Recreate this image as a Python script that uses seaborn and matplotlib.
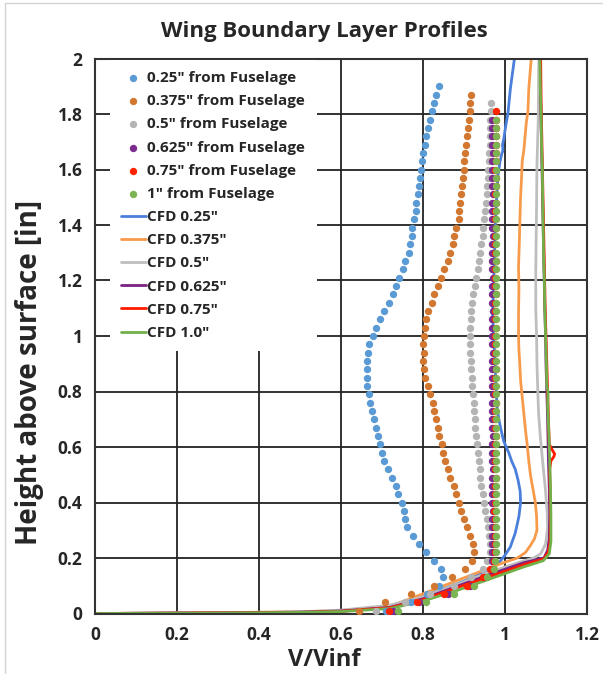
import matplotlib
matplotlib.use('Agg')
import matplotlib.pyplot as plt
import seaborn as sns
import pandas as pd
from matplotlib.ticker import MultipleLocator, FuncFormatter
from matplotlib.patches import Rectangle

# measurement heights of the traverse [in]
h_exp = [0.01, 0.04, 0.07, 0.10, 0.13, 0.16, 0.19, 0.22, 0.25, 0.28,
         0.31, 0.34, 0.37, 0.40, 0.43, 0.46, 0.49, 0.52, 0.55, 0.58,
         0.61, 0.64, 0.67, 0.70, 0.73, 0.76, 0.79, 0.82, 0.85, 0.88,
         0.91, 0.94, 0.97, 1.00, 1.03, 1.06, 1.09, 1.12, 1.15, 1.18,
         1.21, 1.24, 1.27, 1.30, 1.33, 1.36, 1.39, 1.42, 1.45, 1.48,
         1.51, 1.54, 1.57, 1.60, 1.63, 1.66, 1.69, 1.72, 1.75, 1.78,
         1.81, 1.84, 1.87, 1.90]

# experiment V/Vinf, bottom to top
exp_025 = [0.710, 0.770, 0.810, 0.840, 0.848, 0.845, 0.827, 0.807, 0.791, 0.775,
           0.760, 0.756, 0.753, 0.748, 0.740, 0.733, 0.724, 0.714, 0.705, 0.700,
           0.695, 0.690, 0.685, 0.681, 0.676, 0.671, 0.668, 0.664, 0.663, 0.663,
           0.664, 0.666, 0.669, 0.677, 0.685, 0.694, 0.706, 0.716, 0.726, 0.734,
           0.741, 0.751, 0.756, 0.765, 0.769, 0.772, 0.774, 0.778, 0.783, 0.783,
           0.787, 0.790, 0.792, 0.795, 0.797, 0.800, 0.804, 0.808, 0.812, 0.818,
           0.823, 0.827, 0.832, 0.838]
exp_0375 = [0.644, 0.708, 0.770, 0.826, 0.871, 0.903, 0.919, 0.925, 0.922, 0.914,
            0.907, 0.899, 0.893, 0.887, 0.880, 0.875, 0.867, 0.860, 0.854, 0.849,
            0.846, 0.840, 0.836, 0.831, 0.827, 0.824, 0.818, 0.812, 0.805, 0.802,
            0.801, 0.802, 0.801, 0.802, 0.805, 0.807, 0.812, 0.822, 0.828, 0.836,
            0.845, 0.852, 0.861, 0.867, 0.872, 0.876, 0.880, 0.887, 0.889, 0.891,
            0.893, 0.895, 0.897, 0.899, 0.901, 0.903, 0.906, 0.907, 0.910, 0.912,
            0.914, 0.915, 0.917]
exp_05 = [0.686, 0.756, 0.818, 0.875, 0.918, 0.946, 0.956, 0.964, 0.964, 0.962,
          0.959, 0.956, 0.952, 0.950, 0.946, 0.942, 0.940, 0.938, 0.936, 0.934,
          0.932, 0.930, 0.928, 0.926, 0.924, 0.924, 0.922, 0.919, 0.919, 0.917,
          0.917, 0.915, 0.915, 0.915, 0.915, 0.916, 0.918, 0.919, 0.922, 0.926,
          0.930, 0.934, 0.937, 0.940, 0.942, 0.946, 0.946, 0.948, 0.952, 0.954,
          0.955, 0.956, 0.958, 0.959, 0.960, 0.962, 0.963, 0.963, 0.964, 0.964,
          0.966, 0.967]
exp_0625 = [0.728, 0.790, 0.860, 0.915, 0.950, 0.966, 0.968, 0.969, 0.968, 0.969,
            0.968, 0.969, 0.970, 0.969, 0.968, 0.969, 0.969, 0.970, 0.969, 0.968,
            0.969, 0.970, 0.969, 0.969, 0.968, 0.969, 0.970, 0.969, 0.969, 0.968,
            0.969, 0.970, 0.969, 0.968, 0.969, 0.969, 0.970, 0.969, 0.968, 0.969,
            0.970, 0.969, 0.969, 0.968, 0.969, 0.970, 0.969, 0.968, 0.969, 0.969,
            0.970, 0.969, 0.968, 0.969, 0.969, 0.970, 0.969, 0.968, 0.969, 0.969]
exp_075 = [0.716, 0.785, 0.852, 0.907, 0.946, 0.964, 0.972, 0.975, 0.976, 0.975,
           0.976, 0.975, 0.974, 0.976, 0.975, 0.976, 0.977, 0.975, 0.976, 0.975,
           0.976, 0.977, 0.975, 0.976, 0.975, 0.977, 0.976, 0.975, 0.976, 0.977,
           0.975, 0.976, 0.976, 0.975, 0.977, 0.976, 0.975, 0.976, 0.977, 0.976,
           0.975, 0.976, 0.977, 0.976, 0.975, 0.976, 0.977, 0.976, 0.975, 0.977,
           0.976, 0.977, 0.978, 0.976, 0.977, 0.978, 0.977, 0.978, 0.977, 0.978,
           0.979]
exp_1 = [0.738, 0.807, 0.875, 0.924, 0.956, 0.972, 0.976, 0.977, 0.978, 0.977,
         0.978, 0.977, 0.978, 0.978, 0.977, 0.978, 0.977, 0.978, 0.978, 0.977,
         0.978, 0.977, 0.978, 0.978, 0.977, 0.978, 0.977, 0.978, 0.978, 0.977,
         0.978, 0.977, 0.978, 0.978, 0.977, 0.978, 0.977, 0.978, 0.978, 0.977,
         0.978, 0.977, 0.978, 0.978, 0.977, 0.978, 0.977, 0.978, 0.978, 0.977,
         0.978, 0.977, 0.978, 0.978, 0.977, 0.978, 0.977, 0.978, 0.978, 0.978]

# CFD profiles (V/Vinf, height)
cfd_025_v = [0, 0.30, 0.50, 0.60, 0.70, 0.80, 0.88, 0.93, 0.964, 0.980,
             0.989, 1.000, 1.013, 1.025, 1.034, 1.038, 1.037, 1.032, 1.025, 1.016,
             1.009, 0.997, 0.989, 0.985, 0.981, 0.979, 0.977, 0.976, 0.974, 0.972,
             0.970, 0.972, 0.974, 0.976, 0.978, 0.981, 0.983, 0.987, 0.988, 0.991,
             0.995, 0.994, 0.997, 1.001, 1.002, 1.007, 1.013, 1.023]
cfd_025_h = [0, 0.002, 0.004, 0.008, 0.020, 0.062, 0.105, 0.135, 0.160, 0.175,
             0.190, 0.210, 0.240, 0.290, 0.350, 0.400, 0.440, 0.480, 0.520, 0.550,
             0.580, 0.620, 0.670, 0.700, 0.740, 0.790, 0.850, 0.900, 0.950, 1.000,
             1.080, 1.170, 1.280, 1.390, 1.460, 1.530, 1.580, 1.620, 1.630, 1.650,
             1.670, 1.690, 1.710, 1.750, 1.760, 1.800, 1.890, 2.000]
cfd_0375_v = [0, 0.30, 0.50, 0.60, 0.72, 0.80, 0.88, 0.964, 1.000, 1.030,
              1.050, 1.062, 1.072, 1.078, 1.077, 1.074, 1.068, 1.062, 1.058, 1.054,
              1.050, 1.046, 1.042, 1.038, 1.036, 1.034, 1.033, 1.033, 1.034, 1.033,
              1.035, 1.036, 1.037, 1.038, 1.040, 1.042, 1.046, 1.049, 1.052, 1.056,
              1.058, 1.064]
cfd_0375_h = [0, 0.003, 0.006, 0.011, 0.026, 0.071, 0.117, 0.165, 0.185, 0.200,
              0.220, 0.245, 0.270, 0.300, 0.350, 0.400, 0.450, 0.500, 0.550, 0.610,
              0.660, 0.720, 0.780, 0.840, 0.900, 0.950, 1.000, 1.080, 1.170, 1.250,
              1.340, 1.400, 1.450, 1.500, 1.560, 1.630, 1.670, 1.720, 1.770, 1.810,
              1.890, 2.000]
cfd_05_v = [0, 0.30, 0.50, 0.60, 0.72, 0.80, 0.883, 0.964, 1.046, 1.070,
            1.087, 1.099, 1.104, 1.103, 1.099, 1.095, 1.091, 1.086, 1.082, 1.080,
            1.078, 1.077, 1.075, 1.075, 1.076, 1.077, 1.078, 1.081, 1.082, 1.083]
cfd_05_h = [0, 0.003, 0.006, 0.012, 0.030, 0.060, 0.105, 0.150, 0.190, 0.200,
            0.215, 0.250, 0.310, 0.360, 0.440, 0.500, 0.560, 0.640, 0.720, 0.800,
            0.900, 1.000, 1.100, 1.230, 1.350, 1.470, 1.620, 1.770, 1.950, 2.000]
cfd_0625_v = [0, 0.30, 0.50, 0.60, 0.72, 0.80, 0.883, 0.964, 1.046, 1.095,
              1.104, 1.108, 1.109, 1.108, 1.106, 1.105, 1.104, 1.102, 1.100, 1.099,
              1.097, 1.095, 1.093, 1.091, 1.089, 1.087, 1.086]
cfd_0625_h = [0, 0.002, 0.005, 0.009, 0.022, 0.053, 0.098, 0.141, 0.183, 0.200,
              0.228, 0.270, 0.350, 0.450, 0.550, 0.620, 0.700, 0.800, 0.900, 1.000,
              1.100, 1.250, 1.400, 1.550, 1.700, 1.850, 2.000]
cfd_075_v = [0, 0.30, 0.50, 0.60, 0.72, 0.80, 0.883, 0.964, 1.046, 1.095,
             1.105, 1.110, 1.111, 1.110, 1.109, 1.112, 1.119, 1.121, 1.115, 1.108,
             1.106, 1.104, 1.102, 1.100, 1.098, 1.096, 1.094, 1.092, 1.090, 1.088,
             1.087]
cfd_075_h = [0, 0.002, 0.004, 0.008, 0.021, 0.050, 0.093, 0.134, 0.176, 0.197,
             0.220, 0.260, 0.350, 0.450, 0.520, 0.550, 0.565, 0.575, 0.590, 0.610,
             0.700, 0.800, 0.900, 1.000, 1.100, 1.250, 1.400, 1.550, 1.700, 1.850,
             2.000]
cfd_1_v = [0, 0.30, 0.50, 0.60, 0.72, 0.80, 0.883, 0.964, 1.046, 1.093,
           1.108, 1.112, 1.112, 1.111, 1.109, 1.107, 1.104, 1.105, 1.102, 1.101,
           1.099, 1.097, 1.096, 1.094, 1.093, 1.092, 1.091, 1.089, 1.088, 1.086,
           1.085]
cfd_1_h = [0, 0.0015, 0.004, 0.007, 0.018, 0.045, 0.083, 0.125, 0.168, 0.190,
           0.215, 0.260, 0.350, 0.450, 0.550, 0.650, 0.750, 0.800, 0.820, 0.900,
           1.000, 1.100, 1.200, 1.300, 1.400, 1.500, 1.600, 1.700, 1.800, 1.900,
           2.000]

exp_labels = ['0.25" from Fuselage', '0.375" from Fuselage', '0.5" from Fuselage',
              '0.625" from Fuselage', '0.75" from Fuselage', '1" from Fuselage']
cfd_labels = ['CFD 0.25"', 'CFD 0.375"', 'CFD 0.5"', 'CFD 0.625"', 'CFD 0.75"', 'CFD 1.0"']
exp_colors = ['#5B9BD5', '#D2772F', '#B4B4B4', '#7B2C8E', '#FF2200', '#7DB453']
cfd_colors = ['#4A7FDB', '#F79B4B', '#BEBEBE', '#7B2383', '#FF1A00', '#72B04A']

sns.set_style('white')
plt.rcParams['font.family'] = ['Open Sans', 'DejaVu Sans']
plt.rcParams['font.weight'] = 'bold'

fig = plt.figure(figsize=(6.03, 6.74), dpi=100)
ax = fig.add_axes([95/603, 1 - 613.5/674, 492/603, 555/674])

exp_all = [exp_025, exp_0375, exp_05, exp_0625, exp_075, exp_1]
cfd_all = [(cfd_025_v, cfd_025_h), (cfd_0375_v, cfd_0375_h), (cfd_05_v, cfd_05_h),
           (cfd_0625_v, cfd_0625_h), (cfd_075_v, cfd_075_h), (cfd_1_v, cfd_1_h)]

for (cv, ch), lab, col in zip(cfd_all, cfd_labels, cfd_colors):
    df = pd.DataFrame({'v': cv, 'h': ch})
    sns.lineplot(data=df, x='v', y='h', sort=False, estimator=None, color=col,
                 lw=2.0, label=lab, ax=ax, zorder=2)

for vals, lab, col in zip(exp_all, exp_labels, exp_colors):
    df = pd.DataFrame({'v': vals, 'h': h_exp[:len(vals)]})
    sns.scatterplot(data=df, x='v', y='h', color=col, s=28, linewidth=0,
                    label=lab, ax=ax, zorder=3)

ax.set_xlim(0, 1.2)
ax.set_ylim(0, 2)
ax.xaxis.set_major_locator(MultipleLocator(0.2))
ax.yaxis.set_major_locator(MultipleLocator(0.2))
ax.xaxis.set_minor_locator(MultipleLocator(0.04))
ax.yaxis.set_minor_locator(MultipleLocator(0.04))
fmt = FuncFormatter(lambda x, p: '%g' % round(x, 2))
ax.xaxis.set_major_formatter(fmt)
ax.yaxis.set_major_formatter(fmt)
ax.grid(True, which='major', color='#222222', lw=1.3)
ax.set_axisbelow(True)
ax.tick_params(which='major', direction='inout', length=10, width=1.2, color='#222222',
               labelsize=12.5, pad=4)
ax.tick_params(which='minor', direction='inout', length=7, width=1.0, color='#222222')
for s in ax.spines.values():
    s.set_color('#333333')
    s.set_linewidth(1.5)
for lab in ax.get_xticklabels() + ax.get_yticklabels():
    lab.set_fontweight('bold')
ax.set_xlabel('')
ax.set_ylabel('')

handles, labels = ax.get_legend_handles_labels()
order = [labels.index(l) for l in exp_labels + cfd_labels]
leg = ax.legend([handles[i] for i in order], [labels[i] for i in order],
                loc='upper left', bbox_to_anchor=(0.03, 0.998), borderaxespad=0,
                frameon=True, fancybox=False, framealpha=1, facecolor='white',
                edgecolor='none', prop={'weight': 'bold', 'size': 11},
                handlelength=1.6, handletextpad=0.1, labelspacing=0.6,
                borderpad=0.75, scatterpoints=1)
leg.set_zorder(5)

fig.text(324/603, 1 - 31/674, 'Wing Boundary Layer Profiles', ha='center', va='center',
         fontsize=16, fontweight='bold')
fig.text(324/603, 1 - 660/674, 'V/Vinf', ha='center', va='center',
         fontsize=17, fontweight='bold')
fig.text(30/603, 1 - 372/674, 'Height above surface [in]', ha='center', va='center',
         rotation=90, fontsize=20, fontweight='bold')

fig.patches.append(Rectangle((5/603, -0.05), 1.2, 1.05 - 3/674, transform=fig.transFigure,
                             fill=False, edgecolor='#d4d4d4', lw=1))

fig.savefig('out.png', dpi=100)
